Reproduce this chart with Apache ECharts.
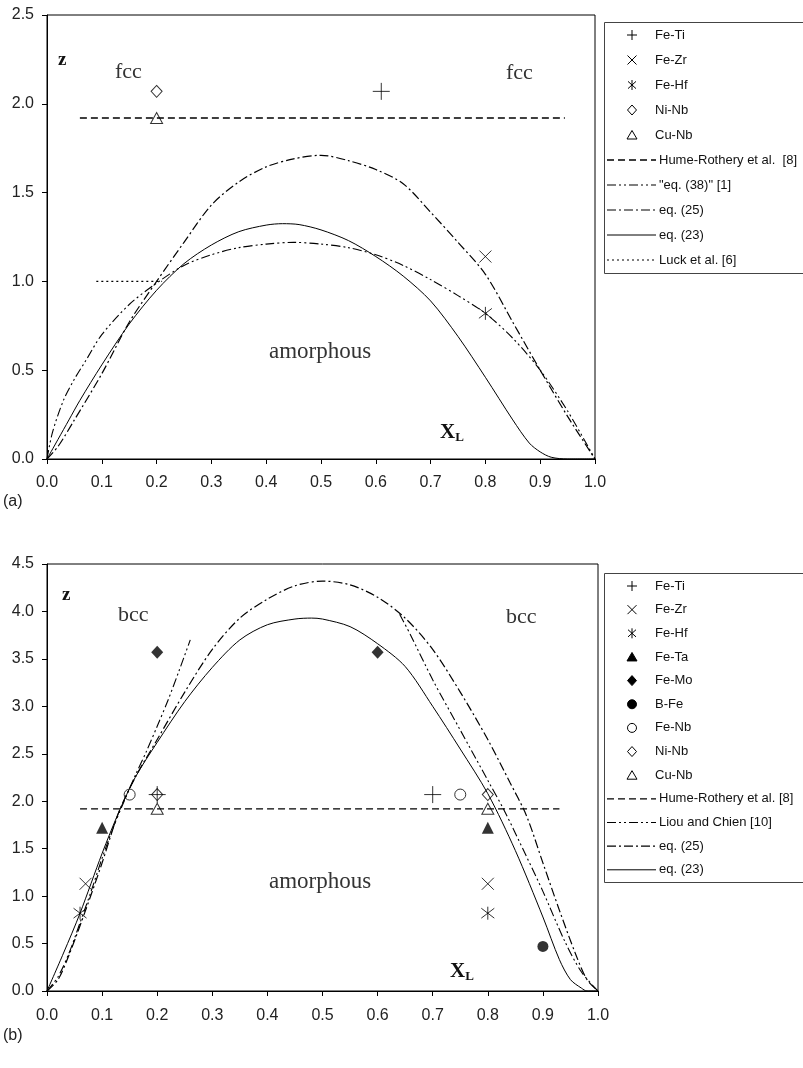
<!DOCTYPE html>
<html><head><meta charset="utf-8">
<script src="https://cdn.jsdelivr.net/npm/echarts@6/dist/echarts.min.js"></script>
<style>html,body{margin:0;padding:0;background:#fff}#c{width:803px;height:1068px}</style>
</head><body><div id="c"></div>
<script>
// ---------- Panel (a) data ----------
const aFeTi = [[0.61, 2.07]];
const aFeZr = [[0.80, 1.14]];
const aFeHf = [[0.80, 0.82]];
const aNiNb = [[0.20, 2.07]];
const aCuNb = [[0.20, 1.92]];
const aHumeX = [0.06, 0.945];
const aHumeY = [1.92, 1.92];
const aEq38X = [0, 0.01, 0.03, 0.05, 0.07, 0.1, 0.15, 0.2, 0.25, 0.3, 0.35, 0.4, 0.45, 0.5, 0.55, 0.6, 0.65, 0.7, 0.75, 0.8, 0.85, 0.9, 0.95, 1.0];
const aEq38Y = [0, 0.15, 0.33, 0.45, 0.55, 0.70, 0.87, 0.99, 1.09, 1.15, 1.19, 1.21, 1.22, 1.21, 1.19, 1.15, 1.09, 1.01, 0.92, 0.82, 0.68, 0.50, 0.27, 0];
const aEq25X = [0, 0.02, 0.05, 0.1, 0.15, 0.2, 0.25, 0.3, 0.35, 0.4, 0.45, 0.5, 0.55, 0.6, 0.65, 0.7, 0.75, 0.8, 0.85, 0.9, 0.95, 1.0];
const aEq25Y = [0, 0.07, 0.22, 0.48, 0.77, 1.0, 1.22, 1.43, 1.56, 1.645, 1.69, 1.71, 1.68, 1.63, 1.55, 1.39, 1.22, 1.04, 0.77, 0.50, 0.24, 0];
const aEq23X = [0, 0.02, 0.04, 0.06, 0.1, 0.15, 0.2, 0.25, 0.3, 0.35, 0.4, 0.43, 0.46, 0.5, 0.55, 0.6, 0.65, 0.7, 0.75, 0.8, 0.85, 0.88, 0.9, 0.92, 0.95, 1.0];
const aEq23Y = [0, 0.11, 0.22, 0.33, 0.53, 0.76, 0.95, 1.10, 1.205, 1.28, 1.317, 1.325, 1.32, 1.29, 1.23, 1.14, 1.03, 0.89, 0.69, 0.46, 0.22, 0.09, 0.04, 0.01, 0, 0];
const aLuckX = [0.09, 0.21];
const aLuckY = [1.0, 1.0];

// ---------- Panel (b) data ----------
const bFeTi = [[0.20, 2.07], [0.70, 2.07]];
const bFeZr = [[0.07, 1.13], [0.80, 1.13]];
const bFeHf = [[0.06, 0.82], [0.80, 0.82]];
const bFeTa = [[0.10, 1.72], [0.80, 1.72]];
const bFeMo = [[0.20, 3.57], [0.60, 3.57]];
const bBFe  = [[0.90, 0.47]];
const bFeNb = [[0.15, 2.07], [0.75, 2.07]];
const bNiNb = [[0.20, 2.07], [0.80, 2.07]];
const bCuNb = [[0.20, 1.92], [0.80, 1.92]];
const bHumeX = [0.06, 0.93];
const bHumeY = [1.92, 1.92];
const bLiouLX = [0, 0.02, 0.04, 0.06, 0.08, 0.1, 0.12, 0.14, 0.16, 0.18, 0.2, 0.22, 0.24, 0.26];
const bLiouLY = [0, 0.15, 0.40, 0.72, 1.05, 1.40, 1.72, 2.00, 2.27, 2.52, 2.79, 3.07, 3.38, 3.70];
const bLiouRX = [0.64, 0.66, 0.7, 0.75, 0.8, 0.83, 0.87, 0.9, 0.94, 0.97, 1.0];
const bLiouRY = [3.97, 3.75, 3.28, 2.75, 2.22, 1.90, 1.42, 1.05, 0.52, 0.20, 0];
const bEq25X = [0, 0.02, 0.04, 0.07, 0.1, 0.13, 0.16, 0.2, 0.25, 0.3, 0.35, 0.4, 0.45, 0.5, 0.55, 0.6, 0.65, 0.7, 0.75, 0.8, 0.84, 0.87, 0.9, 0.93, 0.96, 0.98, 1.0];
const bEq25Y = [0, 0.12, 0.38, 0.85, 1.35, 1.88, 2.25, 2.65, 3.15, 3.60, 3.93, 4.13, 4.27, 4.32, 4.28, 4.15, 3.93, 3.60, 3.15, 2.65, 2.20, 1.85, 1.35, 0.85, 0.38, 0.12, 0];
const bEq23X = [0, 0.03, 0.06, 0.1, 0.13, 0.16, 0.2, 0.25, 0.3, 0.35, 0.4, 0.45, 0.48, 0.5, 0.55, 0.6, 0.65, 0.7, 0.75, 0.8, 0.85, 0.9, 0.93, 0.95, 0.97, 0.98, 1.0];
const bEq23Y = [0, 0.40, 0.82, 1.45, 1.88, 2.25, 2.62, 3.05, 3.41, 3.70, 3.86, 3.92, 3.93, 3.92, 3.84, 3.66, 3.42, 3.00, 2.55, 2.08, 1.48, 0.78, 0.33, 0.12, 0.03, 0, 0];

const aTicksY = [0, 2.5, 0.5];
const bTicksY = [0, 4.5, 0.5];

const legendA = ['Fe-Ti', 'Fe-Zr', 'Fe-Hf', 'Ni-Nb', 'Cu-Nb', 'Hume-Rothery et al.  [8]', '"eq. (38)" [1]', 'eq. (25)', 'eq. (23)', 'Luck et al. [6]'];
const legendB = ['Fe-Ti', 'Fe-Zr', 'Fe-Hf', 'Fe-Ta', 'Fe-Mo', 'B-Fe', 'Fe-Nb', 'Ni-Nb', 'Cu-Nb', 'Hume-Rothery et al. [8]', 'Liou and Chien [10]', 'eq. (25)', 'eq. (23)'];

// ---------- styles ----------
const zip = (xs, ys) => xs.map((x, i) => [x, ys[i]]);
const SYM = {
  plus: 'path://M0,5L10,5M5,0L5,10',
  cross: 'path://M0,0L10,10M10,0L0,10',
  aster: 'path://M1,1.2L9,8.8M9,1.2L1,8.8M5,0L5,10'
};
const stroke = {color: 'transparent', borderColor: '#000', borderWidth: 1};
const hollow = {color: 'transparent', borderColor: '#000', borderWidth: 1};
const filled = {color: '#000', borderColor: '#000', borderWidth: 0};
const markerStyle = {
  'Fe-Ti': {symbol: SYM.plus, symbolSize: 17, itemStyle: stroke, glyph: 'plus'},
  'Fe-Zr': {symbol: SYM.cross, symbolSize: 12, itemStyle: stroke, glyph: 'cross'},
  'Fe-Hf': {symbol: SYM.aster, symbolSize: 13, itemStyle: stroke, glyph: 'aster'},
  'Fe-Ta': {symbol: 'triangle', symbolSize: [12, 12], itemStyle: filled, glyph: 'tri', fill: true},
  'Fe-Mo': {symbol: 'diamond', symbolSize: [12, 13], itemStyle: filled, glyph: 'dia', fill: true},
  'B-Fe':  {symbol: 'circle', symbolSize: 11, itemStyle: filled, glyph: 'circ', fill: true},
  'Fe-Nb': {symbol: 'circle', symbolSize: 11, itemStyle: hollow, glyph: 'circ'},
  'Ni-Nb': {symbol: 'diamond', symbolSize: [11, 12], itemStyle: hollow, glyph: 'dia'},
  'Cu-Nb': {symbol: 'triangle', symbolSize: [12, 11], itemStyle: hollow, glyph: 'tri'}
};
const DASH = [7, 4];
const DASHDOT = [9, 3, 2, 3];
const DASHDOTDOT = [9, 3, 2, 3, 2, 3];
const DOT = [2, 3];
const lineStyles = {
  'Hume-Rothery et al.  [8]': {dash: DASH, w: 1.3},
  'Hume-Rothery et al. [8]': {dash: DASH, w: 1.3},
  '"eq. (38)" [1]': {dash: DASHDOTDOT, w: 1.1},
  'Liou and Chien [10]': {dash: DASHDOTDOT, w: 1.1},
  'eq. (25)': {dash: DASHDOT, w: 1.2},
  'eq. (23)': {dash: null, w: 1},
  'Luck et al. [6]': {dash: DOT, w: 1.1}
};

function scat(name, data, gi) {
  const m = markerStyle[name];
  return {type: 'scatter', name, data, xAxisIndex: gi, yAxisIndex: gi, z: 5,
    symbol: m.symbol, symbolSize: m.symbolSize, itemStyle: m.itemStyle};
}
function line(name, data, gi, smooth) {
  const s = lineStyles[name];
  return {type: 'line', name, data, xAxisIndex: gi, yAxisIndex: gi, symbol: 'none', showSymbol: false,
    smooth: smooth === undefined ? 0.3 : smooth, z: 3,
    lineStyle: {color: '#000', width: s.w, type: s.dash || 'solid'}};
}

const series = [
  scat('Fe-Ti', aFeTi, 0), scat('Fe-Zr', aFeZr, 0), scat('Fe-Hf', aFeHf, 0), scat('Ni-Nb', aNiNb, 0), scat('Cu-Nb', aCuNb, 0),
  line('Hume-Rothery et al.  [8]', zip(aHumeX, aHumeY), 0, false),
  line('"eq. (38)" [1]', zip(aEq38X, aEq38Y), 0),
  line('eq. (25)', zip(aEq25X, aEq25Y), 0),
  line('eq. (23)', zip(aEq23X, aEq23Y), 0),
  line('Luck et al. [6]', zip(aLuckX, aLuckY), 0, false),

  scat('Fe-Ti', bFeTi, 1), scat('Fe-Zr', bFeZr, 1), scat('Fe-Hf', bFeHf, 1), scat('Fe-Ta', bFeTa, 1), scat('Fe-Mo', bFeMo, 1),
  scat('B-Fe', bBFe, 1), scat('Fe-Nb', bFeNb, 1), scat('Ni-Nb', bNiNb, 1), scat('Cu-Nb', bCuNb, 1),
  line('Hume-Rothery et al. [8]', zip(bHumeX, bHumeY), 1, false),
  line('Liou and Chien [10]', zip(bLiouLX, bLiouLY), 1),
  line('Liou and Chien [10]', zip(bLiouRX, bLiouRY), 1),
  line('eq. (25)', zip(bEq25X, bEq25Y), 1),
  line('eq. (23)', zip(bEq23X, bEq23Y), 1)
];

const SANS = 'Liberation Sans, Arial, sans-serif';
const SERIF = 'Liberation Serif, Times New Roman, serif';

function xAx(gi) {
  return {gridIndex: gi, type: 'value', min: 0, max: 1, interval: 0.1,
    axisLine: {show: true, lineStyle: {color: '#000', width: 1}},
    axisTick: {show: true, length: 5, lineStyle: {color: '#000'}},
    splitLine: {show: false},
    axisLabel: {margin: gi === 0 ? 16 : 17, fontSize: 16, color: '#222', fontFamily: SANS, formatter: v => v.toFixed(1)}};
}
function yAx(gi, t) {
  return {gridIndex: gi, type: 'value', min: t[0], max: t[1], interval: t[2],
    axisLine: {show: true, lineStyle: {color: '#000', width: 1}},
    axisTick: {show: true, length: 5, lineStyle: {color: '#000'}},
    splitLine: {show: false},
    axisLabel: {margin: 13, fontSize: 16, color: '#222', fontFamily: SANS, formatter: v => v.toFixed(1)}};
}

// ---------- legend boxes (drawn as graphic elements) ----------
function glyph(kind, cx, cy, fill) {
  const st = {stroke: '#000', lineWidth: 1, fill: fill ? '#000' : 'none'};
  const L = (x1, y1, x2, y2) => ({type: 'line', shape: {x1: cx + x1, y1: cy + y1, x2: cx + x2, y2: cy + y2}, style: {stroke: '#000', lineWidth: 1}, z: 11});
  if (kind === 'plus') return [L(-5, 0, 5, 0), L(0, -5, 0, 5)];
  if (kind === 'cross') return [L(-4.5, -4.5, 4.5, 4.5), L(4.5, -4.5, -4.5, 4.5)];
  if (kind === 'aster') return [L(-4, -3.6, 4, 3.6), L(4, -3.6, -4, 3.6), L(0, -5, 0, 5)];
  if (kind === 'tri') return [{type: 'polygon', shape: {points: [[cx - 5, cy + 4], [cx + 5, cy + 4], [cx, cy - 4.5]]}, style: st, z: 11}];
  if (kind === 'dia') return [{type: 'polygon', shape: {points: [[cx, cy - 5], [cx + 4.5, cy], [cx, cy + 5], [cx - 4.5, cy]]}, style: st, z: 11}];
  if (kind === 'circ') return [{type: 'circle', shape: {cx, cy, r: 4.5}, style: st, z: 11}];
  return [];
}
function legendBox(names, top, first, step, bottom) {
  const els = [{type: 'rect', shape: {x: 604.5, y: top + 0.5, width: 240, height: bottom - top}, style: {fill: '#fff', stroke: '#444', lineWidth: 1}, z: 10}];
  names.forEach((n, i) => {
    const cy = first + i * step;
    if (markerStyle[n]) {
      els.push(...glyph(markerStyle[n].glyph, 632, cy, markerStyle[n].fill));
      els.push({type: 'text', x: 655, y: cy, z: 11, style: {text: n, font: '13px ' + SANS, fill: '#111', textVerticalAlign: 'middle', verticalAlign: 'middle'}});
    } else {
      const s = lineStyles[n];
      els.push({type: 'line', shape: {x1: 607, y1: cy, x2: 656, y2: cy}, style: {stroke: '#000', lineWidth: s.w, lineDash: s.dash}, z: 11});
      els.push({type: 'text', x: 659, y: cy, z: 11, style: {text: n, font: '13px ' + SANS, fill: '#111', textVerticalAlign: 'middle', verticalAlign: 'middle'}});
    }
  });
  return els;
}

function txt(x, y, text, font, size, weight, color) {
  return {type: 'text', x, y, z: 10, style: {text, font: (weight || 'normal') + ' ' + size + 'px ' + font,
    fill: color || '#222', textVerticalAlign: 'middle', verticalAlign: 'middle'}};
}
function xl(x, y) {
  return {type: 'text', x, y, z: 10, style: {text: '{a|X}{b|L}', verticalAlign: 'middle', textVerticalAlign: 'middle',
    rich: {a: {fontFamily: SERIF, fontWeight: 'bold', fontSize: 21, fill: '#111', color: '#111'},
           b: {fontFamily: SERIF, fontWeight: 'bold', fontSize: 13, fill: '#111', color: '#111', padding: [10, 0, 0, 0]}}}};
}

const chart = echarts.init(document.getElementById('c'), null, {renderer: 'canvas'});
chart.setOption({
  animation: false,
  backgroundColor: '#fff',
  grid: [
    {left: 47, top: 15, width: 548, height: 444, show: true, borderColor: '#000', borderWidth: 1, containLabel: false},
    {left: 47, top: 564, width: 551, height: 427, show: true, borderColor: '#000', borderWidth: 1, containLabel: false}
  ],
  xAxis: [xAx(0), xAx(1)],
  yAxis: [yAx(0, aTicksY), yAx(1, bTicksY)],
  series,
  graphic: [
    txt(58, 60, 'z', SERIF, 19, 'bold', '#111'),
    txt(115, 72, 'fcc', SERIF, 22, 'normal', '#333'),
    txt(506, 73, 'fcc', SERIF, 22, 'normal', '#333'),
    txt(269, 352, 'amorphous', SERIF, 23, 'normal', '#333'),
    xl(440, 433),
    txt(3, 502, '(a)', SANS, 16, 'normal', '#222'),
    txt(62, 595, 'z', SERIF, 19, 'bold', '#111'),
    txt(118, 615, 'bcc', SERIF, 22, 'normal', '#333'),
    txt(506, 617, 'bcc', SERIF, 22, 'normal', '#333'),
    txt(269, 882, 'amorphous', SERIF, 23, 'normal', '#333'),
    xl(450, 972),
    txt(3, 1036, '(b)', SANS, 16, 'normal', '#222'),
    ...legendBox(legendA, 22, 35, 25, 273),
    ...legendBox(legendB, 573, 586, 23.65, 882)
  ]
});
</script>
</body></html>
